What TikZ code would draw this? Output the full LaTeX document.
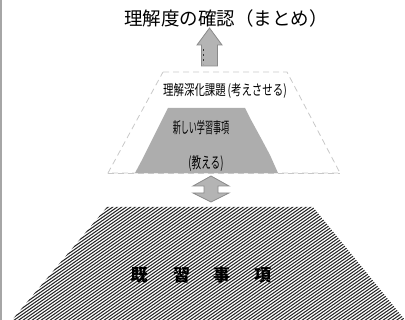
\documentclass[tikz,border=0pt]{standalone}
\usepackage{fontspec}
\usepackage{graphicx}
\newfontfamily\jp{Noto Sans CJK JP}
\definecolor{arrfill}{HTML}{B4B4B4}
\definecolor{arrline}{HTML}{8A8A8A}
\definecolor{midfill}{HTML}{ADADAD}
\definecolor{dashcol}{HTML}{C8C8C8}
\definecolor{hatchcol}{HTML}{262626}
\begin{document}
\begin{tikzpicture}[x=1pt,y=-1pt,
  arrowshape/.style={fill=arrfill,draw=arrline,line width=0.8pt,line join=miter},
  dashedtrap/.style={draw=dashcol,line width=0.8pt,dash pattern=on 6pt off 4pt},
  midtrap/.style={fill=midfill,draw=none},
  label/.style={inner sep=0pt,text=black,font=\jp}]
\useasboundingbox (0,0) rectangle (405,320);
% left border line
\draw[draw=gray!70,line width=1.5pt] (0.75,0) -- (0.75,320);
% title
\node[label,font=\jp\fontsize{18.5}{20}\selectfont] (title) at (226,18) {理解度の確認（まとめ）};
% up arrow
\draw[arrowshape] (209.5,28) -- (222,45) -- (217.5,45) -- (217.5,66) -- (201.5,66) -- (201.5,45) -- (197,45) -- cycle;
\draw[draw=gray!40!black,line width=0.8pt,dash pattern=on 2pt off 3pt] (203.5,49) -- (203.5,64);
% dashed trapezoid (deepening tasks)
\draw[dashedtrap] (163,72) -- (287,72) -- (340,173) -- (108,173) -- cycle;
% gray trapezoid (new items)
\fill[midtrap] (168,108) -- (245,108) -- (250,118) -- (262,140) -- (270,155) -- (278,173) -- (135,173) -- (143,158) -- (152,140) -- (160,124) -- cycle;
\draw[dashedtrap] (108,173) -- (340,173);
\node[label] (deep) at (225,91) {\scalebox{0.72}[1]{\fontsize{14.5}{16}\selectfont 理解深化課題\,(考えさせる)}};
\node[label] (newitems) at (201,128) {\scalebox{0.52}[1]{\fontsize{15.5}{17}\selectfont 新しい学習事項}};
\node[label] (teach) at (206,164) {\scalebox{0.62}[1]{\fontsize{15.5}{17}\selectfont (教える)}};
% double arrow
\draw[arrowshape] (211,176) -- (229,186) -- (218,186) -- (218,193) -- (229,193) -- (211,202) -- (193,193) -- (204,193) -- (204,186) -- (193,186) -- cycle;
% hatched trapezoid (prior knowledge)
\begin{scope}
  \clip (107,207) -- (313,207) -- (405,320) -- (12,320) -- cycle;
  \foreach \i in {-200,-195.5,...,420} {
    \draw[draw=hatchcol,line width=1.05pt] (\i,322) -- (\i+170,203);
  }
\end{scope}
\node[label,text=black,font=\jp\bfseries\fontsize{17}{19}\selectfont] (k1) at (139,275) {既};
\node[label,text=black,font=\jp\bfseries\fontsize{17}{19}\selectfont] (k2) at (181.5,275) {習};
\node[label,text=black,font=\jp\bfseries\fontsize{17}{19}\selectfont] (k3) at (221.5,275) {事};
\node[label,text=black,font=\jp\bfseries\fontsize{17}{19}\selectfont] (k4) at (262.5,275) {項};
\end{tikzpicture}
\end{document}
